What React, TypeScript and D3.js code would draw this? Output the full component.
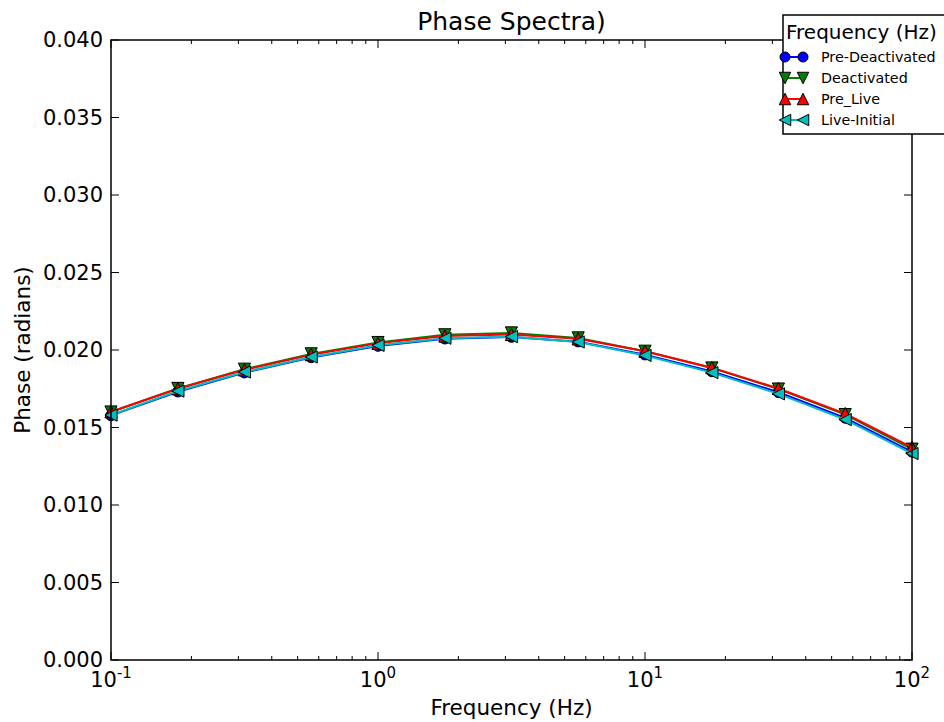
import React, { useEffect, useRef } from 'react'
import * as d3 from 'd3'

const W = 944
const H = 722
const margin = { top: 40, right: 32, bottom: 62, left: 111 }

const FREQS = [0.1, 0.178, 0.316, 0.562, 1, 1.78, 3.16, 5.62, 10, 17.8, 31.6, 56.2, 100]
const PRE_DEACTIVATED = [0.01578, 0.01731, 0.01854, 0.01952, 0.02026, 0.02073, 0.02084, 0.02054, 0.01970, 0.01862, 0.01727, 0.01562, 0.01343]
const DEACTIVATED = [0.01600, 0.01752, 0.01876, 0.01975, 0.02048, 0.02098, 0.02110, 0.02078, 0.01992, 0.01884, 0.01748, 0.01583, 0.01360]
const PRE_LIVE = [0.01602, 0.01750, 0.01872, 0.01970, 0.02043, 0.02090, 0.02100, 0.02072, 0.01992, 0.01886, 0.01752, 0.01590, 0.01372]
const LIVE_INITIAL = [0.01580, 0.01735, 0.01858, 0.01955, 0.02030, 0.02076, 0.02086, 0.02052, 0.01965, 0.01854, 0.01717, 0.01551, 0.01332]
const Y_TICKS = [0, 0.005, 0.01, 0.015, 0.02, 0.025, 0.03, 0.035, 0.04]
const X_TICKS = [0.1, 1, 10, 100]
const X_EXP = ['-1', '0', '1', '2']

const SERIES = [
  { name: 'Pre-Deactivated', values: PRE_DEACTIVATED, color: '#0000ff', marker: 'circle' },
  { name: 'Deactivated', values: DEACTIVATED, color: '#008000', marker: 'down' },
  { name: 'Pre_Live', values: PRE_LIVE, color: '#ff0000', marker: 'up' },
  { name: 'Live-Initial', values: LIVE_INITIAL, color: '#00bfbf', marker: 'left' },
]

const FONT = 'DejaVu Sans, sans-serif'

function markerPath(kind: string, r: number) {
  if (kind === 'circle') return d3.symbol(d3.symbolCircle, Math.PI * r * r)()
  const t = r * 1.15
  if (kind === 'down') return `M${-t},${-t}L${t},${-t}L0,${t}Z`
  if (kind === 'up') return `M${-t},${t}L${t},${t}L0,${-t}Z`
  return `M${-t},0L${t},${-t}L${t},${t}Z`
}

export default function App() {
  const ref = useRef<SVGSVGElement>(null)

  useEffect(() => {
    const svg = d3.select(ref.current)
    svg.selectAll('*').remove()
    const cw = W - margin.left - margin.right
    const ch = H - margin.top - margin.bottom
    const x = d3.scaleLog().domain([0.1, 100]).range([0, cw])
    const y = d3.scaleLinear().domain([0, 0.04]).range([ch, 0])

    const g = svg.append('g').attr('transform', `translate(${margin.left},${margin.top})`)

    // minor log ticks
    const minor: number[] = []
    for (let e = -1; e < 2; e++) for (let k = 2; k <= 9; k++) minor.push(k * Math.pow(10, e))

    const ticks = g.append('g').attr('stroke', '#000').attr('stroke-width', 1)
    minor.forEach(v => {
      const px = x(v)
      ticks.append('line').attr('x1', px).attr('x2', px).attr('y1', ch).attr('y2', ch - 4)
      ticks.append('line').attr('x1', px).attr('x2', px).attr('y1', 0).attr('y2', 4)
    })
    X_TICKS.forEach(v => {
      const px = x(v)
      ticks.append('line').attr('x1', px).attr('x2', px).attr('y1', ch).attr('y2', ch - 8)
      ticks.append('line').attr('x1', px).attr('x2', px).attr('y1', 0).attr('y2', 8)
    })
    Y_TICKS.forEach(v => {
      const py = y(v)
      ticks.append('line').attr('x1', 0).attr('x2', 8).attr('y1', py).attr('y2', py)
      ticks.append('line').attr('x1', cw).attr('x2', cw - 8).attr('y1', py).attr('y2', py)
    })

    // tick labels
    g.append('g').selectAll('text').data(Y_TICKS).enter().append('text')
      .attr('x', -8).attr('y', d => y(d)).attr('dy', '0.35em')
      .attr('text-anchor', 'end').attr('font-family', FONT).attr('font-size', 21)
      .text(d => d3.format('.3f')(d))

    const xl = g.append('g').selectAll('text').data(X_TICKS).enter().append('text')
      .attr('x', d => x(d)).attr('y', ch + 27)
      .attr('text-anchor', 'middle').attr('font-family', FONT).attr('font-size', 21)
    xl.append('tspan').text('10')
    xl.append('tspan').attr('dy', -9).attr('font-size', 15).text((d, i) => X_EXP[i])

    // lines and markers
    SERIES.forEach(s => {
      const pts = FREQS.map((f, i) => [x(f), y(s.values[i])] as [number, number])
      g.append('path').attr('d', d3.line()(pts))
        .attr('fill', 'none').attr('stroke', s.color).attr('stroke-width', 2)
      g.append('g').selectAll('path').data(pts).enter().append('path')
        .attr('d', markerPath(s.marker, 5.3))
        .attr('transform', d => `translate(${d[0]},${d[1]})`)
        .attr('fill', s.color).attr('stroke', '#000').attr('stroke-width', 1)
    })

    // frame
    g.append('rect').attr('width', cw).attr('height', ch)
      .attr('fill', 'none').attr('stroke', '#000').attr('stroke-width', 1.5)

    // title and axis labels
    svg.append('text').attr('x', margin.left + cw / 2).attr('y', 30)
      .attr('text-anchor', 'middle').attr('font-family', FONT).attr('font-size', 25)
      .text('Phase Spectra)')
    svg.append('text').attr('x', margin.left + cw / 2).attr('y', 715)
      .attr('text-anchor', 'middle').attr('font-family', FONT).attr('font-size', 21.5)
      .text('Frequency (Hz)')
    svg.append('text').attr('transform', `translate(30,${margin.top + ch / 2}) rotate(-90)`)
      .attr('text-anchor', 'middle').attr('font-family', FONT).attr('font-size', 21.5)
      .text('Phase (radians)')

    // legend
    const lg = svg.append('g').attr('transform', 'translate(783,15)')
    lg.append('rect').attr('width', 170).attr('height', 119)
      .attr('fill', '#fff').attr('stroke', '#000').attr('stroke-width', 1.5)
    lg.append('text').attr('x', 3).attr('y', 24).attr('font-family', FONT).attr('font-size', 20)
      .text('Frequency (Hz)')
    SERIES.forEach((s, i) => {
      const ly = 42 + i * 21
      lg.append('line').attr('x1', 2).attr('x2', 20).attr('y1', ly).attr('y2', ly)
        .attr('stroke', s.color).attr('stroke-width', 2)
      ;[2, 20].forEach(mx => {
        lg.append('path').attr('d', markerPath(s.marker, 5))
          .attr('transform', `translate(${mx},${ly})`)
          .attr('fill', s.color).attr('stroke', '#000').attr('stroke-width', 1)
      })
      lg.append('text').attr('x', 38).attr('y', ly).attr('dy', '0.35em')
        .attr('font-family', FONT).attr('font-size', 14.3).text(s.name)
    })
  }, [])

  return (
    <div style={{ position: 'absolute', left: 0, top: 0, background: '#fff' }}>
      <svg ref={ref} width={W} height={H} style={{ display: 'block' }} />
    </div>
  )
}
